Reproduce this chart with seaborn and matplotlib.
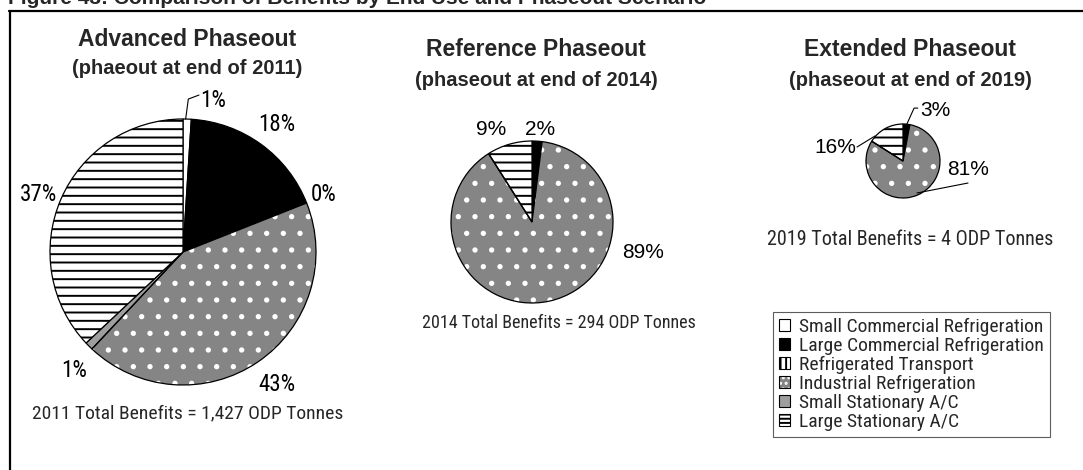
import matplotlib
matplotlib.use("Agg")
import matplotlib.pyplot as plt
import seaborn as sns
from matplotlib import font_manager as fm
from matplotlib.patches import Patch, Wedge
from matplotlib.lines import Line2D

# ---- data -------------------------------------------------------------
end_uses = [
    "Small Commercial Refrigeration",
    "Large Commercial Refrigeration",
    "Refrigerated Transport",
    "Industrial Refrigeration",
    "Small Stationary A/C",
    "Large Stationary A/C",
]
advanced_share = [1, 18, 0, 43, 1, 37]      # % of 2011 benefits
reference_share = [0, 2, 0, 89, 0, 9]       # % of 2014 benefits
extended_share = [0, 3, 0, 81, 0, 16]       # % of 2019 benefits

scenario_titles = ["Advanced Phaseout", "Reference Phaseout", "Extended Phaseout"]
scenario_subtitles = ["(phaeout at end of 2011)", "(phaseout at end of 2014)",
                      "(phaseout at end of 2019)"]
total_labels = ["2011 Total Benefits = 1,427 ODP Tonnes",
                "2014 Total Benefits = 294 ODP Tonnes",
                "2019 Total Benefits = 4 ODP Tonnes"]
figure_title = "Figure 43: Comparison of Benefits by End Use and Phaseout Scenario"

# ---- style ------------------------------------------------------------
sns.set_theme(style="white")
available = {f.name for f in fm.fontManager.ttflist}


def pick(cands, default):
    for c in cands:
        if c in available:
            return c
    return default


NARROW = pick(["Liberation Sans Narrow", "Arial Narrow", "Roboto Condensed",
               "Noto Sans Condensed", "Open Sans Condensed", "DejaVu Sans Condensed"],
              "Liberation Sans")
ARIAL = pick(["Liberation Sans", "Arial"], "DejaVu Sans")
plt.rcParams["font.family"] = [ARIAL, "DejaVu Sans"]
plt.rcParams["hatch.linewidth"] = 1.4

fills = ["white", "black", "white", "#858585", "#9e9e9e", "white"]
hatches = [None, None, "|||", ".", None, "--"]
legend_hatches = [None, None, "|||", "...", None, "----"]
hatch_colors = ["black", "black", "black", "white", "black", "black"]

W, H = 1083, 470
fig = plt.figure(figsize=(W / 100, H / 100), dpi=100)
fig.patch.set_facecolor("white")


def fx(px):
    return px / W


def fy(py):
    return 1 - py / H


def pie_axes(cx, cy, r, span):
    half = span * r
    ax = fig.add_axes([fx(cx - half), fy(cy + half), 2 * half / W, 2 * half / H])
    ax.patch.set_alpha(0)
    return ax


def draw_pie(ax, shares, labels_at, font, size, span, leaders=()):
    wedges, _ = ax.pie(shares, startangle=90, counterclock=False, radius=1,
                       colors=fills,
                       wedgeprops=dict(edgecolor="black", linewidth=0.9))
    for w, h, hc in zip(wedges, hatches, hatch_colors):
        if h:
            w.set_hatch(h)
            if hc != "black":
                w.set_edgecolor(hc)
                w.set_linewidth(0)
                ax.add_patch(Wedge(w.center, w.r, w.theta1, w.theta2,
                                   facecolor="none", edgecolor="black",
                                   linewidth=0.9, zorder=w.get_zorder() + 0.5))
    for i, (lx, ly) in labels_at.items():
        ax.text(lx, ly, f"{shares[i]:.0f}%", ha="center", va="center_baseline",
                fontsize=size, family=[font, "DejaVu Sans"], color="black")
    for pts in leaders:
        xs, ys = zip(*pts)
        ax.plot(xs, ys, color="black", lw=0.8)
    ax.set_xlim(-span, span)
    ax.set_ylim(-span, span)
    ax.axis("off")


# Advanced phaseout
ax1 = pie_axes(183, 252, 133, 2.2)
draw_pie(ax1, advanced_share,
         {0: (0.23, 1.158), 1: (0.707, 0.977), 2: (1.056, 0.451),
          3: (0.71, -0.975), 4: (-0.816, -0.872), 5: (-1.086, 0.451)},
         NARROW, 16.5, 2.2,
         leaders=[[(0.02, 1.0), (0.04, 1.15), (0.12, 1.18)]])

# Reference phaseout
ax2 = pie_axes(532, 222, 81, 2.2)
draw_pie(ax2, reference_share,
         {1: (0.099, 1.17), 3: (1.37, -0.346), 5: (-0.506, 1.169)},
         ARIAL, 15, 2.2)

# Extended phaseout
ax3 = pie_axes(903, 161, 37, 2.6)
draw_pie(ax3, extended_share,
         {1: (0.865, 1.432), 3: (1.757, -0.189), 5: (-1.838, 0.432)},
         ARIAL, 15, 2.6,
         leaders=[[(0.081, 0.946), (0.30, 1.43), (0.40, 1.43)],
                  [(-1.243, 0.378), (-0.757, 0.676)],
                  [(1.757, -0.595), (0.378, -0.865)]])

# ---- titles and captions ---------------------------------------------
title_pos = [(187, 46.5, 73.5), (536, 56, 85.7), (910, 56, 85.7)]
for (x, y1, y2), t, s in zip(title_pos, scenario_titles, scenario_subtitles):
    fig.text(fx(x), fy(y1), t, ha="center", va="baseline", fontsize=16.5,
             fontweight="bold")
    fig.text(fx(x), fy(y2), s, ha="center", va="baseline", fontsize=14.5,
             fontweight="bold")

caption_pos = [(187.5, 418.3, 14), (559, 328, 13), (910, 245, 14.5)]
for (x, y, fs), c in zip(caption_pos, total_labels):
    fig.text(fx(x), fy(y), c, ha="center", va="baseline", fontsize=fs,
             family=[NARROW, "DejaVu Sans"])

fig.text(fx(8), fy(4.5), figure_title, ha="left", va="baseline", fontsize=15,
         fontweight="bold")

# outer frame (top and left edges)
fig.add_artist(Line2D([fx(9), 1.0], [fy(11), fy(11)], transform=fig.transFigure,
                      color="black", lw=1.6))
fig.add_artist(Line2D([fx(10), fx(10)], [fy(11), 0.0], transform=fig.transFigure,
                      color="black", lw=1.6))

# ---- legend ------------------------------------------------------------
handles = []
for f, h, hc in zip(fills, legend_hatches, hatch_colors):
    if hc == "black":
        handles.append(Patch(facecolor=f, edgecolor="black", hatch=h, lw=0.8))
    else:
        handles.append((Patch(facecolor=f, edgecolor=hc, hatch=h, lw=0),
                        Patch(facecolor="none", edgecolor="black", lw=0.8)))

leg = fig.legend(handles, end_uses, loc="upper left",
                 bbox_to_anchor=(fx(773), fy(312)), bbox_transform=fig.transFigure,
                 frameon=True, fancybox=False, borderaxespad=0,
                 prop={"family": [NARROW, "DejaVu Sans"], "size": 14},
                 handlelength=0.58, handleheight=0.58, handletextpad=0.45,
                 labelspacing=0.05, borderpad=0.3)
leg.get_frame().set_edgecolor("#333333")
leg.get_frame().set_linewidth(0.8)

fig.savefig("out.png", dpi=100, facecolor="white")
